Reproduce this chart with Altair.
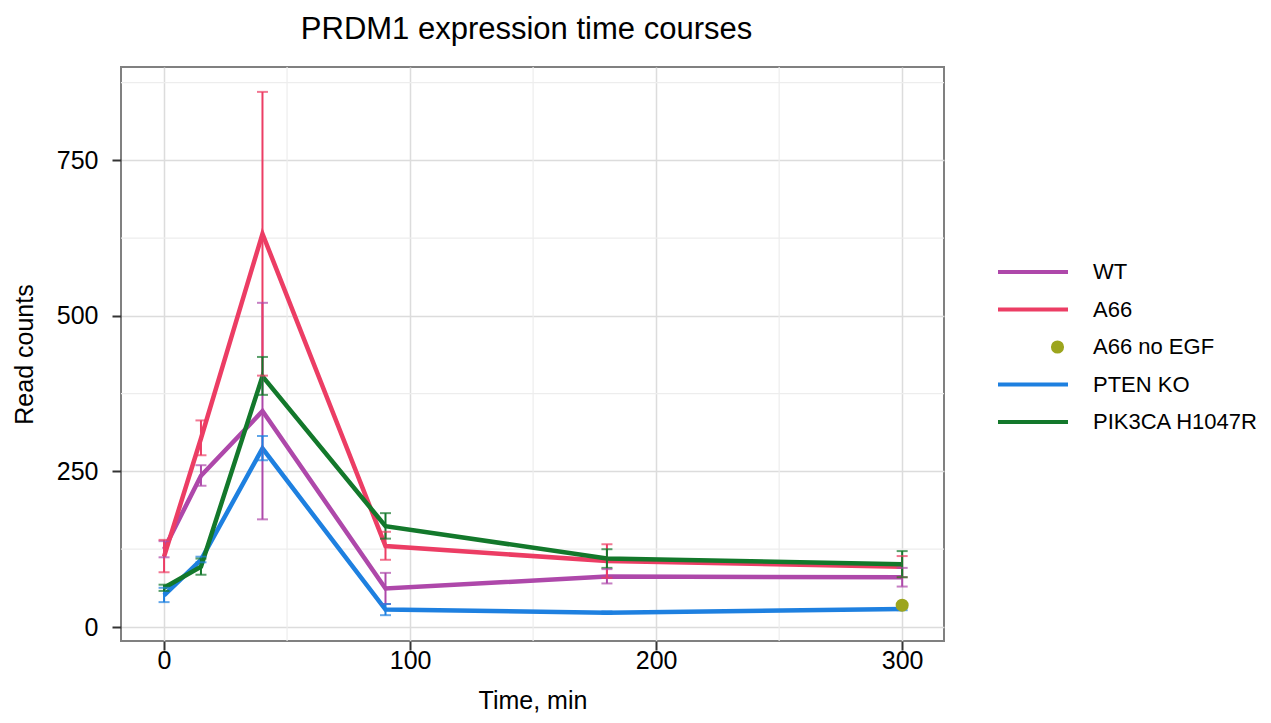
import altair as alt
import pandas as pd

# ---- data ----
time = [0, 15, 40, 90, 180, 300]
series_names = ["WT", "A66", "A66 no EGF", "PTEN KO", "PIK3CA H1047R"]
series_colors = ["#AE48AA", "#EC3D64", "#9CA51E", "#1E80E0", "#13782B"]

wt_mean = [125, 243, 347, 62, 81, 80]
wt_lo = [112, 227, 173, 37, 70, 65]
wt_hi = [138, 260, 521, 87, 93, 95]

a66_mean = [113, 303, 632, 130, 106, 97]
a66_lo = [88, 276, 404, 108, 79, 80]
a66_hi = [140, 332, 860, 153, 133, 114]

pten_mean = [51, 108, 287, 28, 23, 29]
pten_lo = [40, 104, 268, 19, 21, 27]
pten_hi = [63, 113, 307, 37, 25, 31]

pik_mean = [63, 97, 403, 162, 110, 101]
pik_lo = [58, 84, 373, 142, 95, 80]
pik_hi = [68, 110, 434, 183, 125, 122]

noegf_time = [300]
noegf_value = [35]

x_ticks = [0, 100, 200, 300]
y_ticks = [0, 250, 500, 750]
x_minor = [50, 150, 250]
y_minor = [125, 375, 625, 875]

# legend key styles: a line key for line series, a dot key for the point series
LINE_KEY = "M-1,0L1,0"
DOT_KEY = "M0.83,0A0.13,0.13 0 1,1 0.57,0A0.13,0.13 0 1,1 0.83,0Z"
key_shapes = [LINE_KEY, LINE_KEY, DOT_KEY, LINE_KEY, LINE_KEY]
key_fills = ["transparent", "transparent", "#9CA51E", "transparent", "transparent"]

# ---- build tables ----
rows = []
for name, m, lo, hi in [("WT", wt_mean, wt_lo, wt_hi),
                        ("A66", a66_mean, a66_lo, a66_hi),
                        ("PTEN KO", pten_mean, pten_lo, pten_hi),
                        ("PIK3CA H1047R", pik_mean, pik_lo, pik_hi)]:
    for t, a, b, c in zip(time, m, lo, hi):
        rows.append({"time": t, "value": a, "lo": b, "hi": c, "series": name})
df = pd.DataFrame(rows)
noegf = pd.DataFrame({"time": noegf_time, "value": noegf_value,
                      "series": ["A66 no EGF"] * len(noegf_time)})
xminor_df = pd.DataFrame({"x": x_minor})
yminor_df = pd.DataFrame({"y": y_minor})
legend_df = pd.DataFrame({"series": series_names})

FONT = "Liberation Sans"
xs = alt.Scale(domain=[-17.5, 317], nice=False, zero=False)
ys = alt.Scale(domain=[-22.5, 900], nice=False, zero=False)
# colour scale for the marks (domain listed in another order than the legend's,
# so its hidden legend stays separate from the visible one)
mark_order = [1, 3, 4, 0, 2]
cs = alt.Scale(domain=[series_names[i] for i in mark_order],
               range=[series_colors[i] for i in mark_order])


def make_legend():
    return alt.Legend(
        title=None,
        orient="none",
        legendX=875,
        legendY=195,
        symbolSize=4900,
        symbolStrokeWidth=4,
        symbolOpacity=1,
        clipHeight=20,
        rowPadding=15.5,
        labelFontSize=22,
        labelFont=FONT,
        labelColor="#000000",
        labelOffset=23,
        labelLimit=400,
        padding=0,
    )


minor_x = alt.Chart(xminor_df).mark_rule(color="#EDEDED", strokeWidth=1.2).encode(
    x=alt.X("x:Q", scale=xs)
)
minor_y = alt.Chart(yminor_df).mark_rule(color="#EDEDED", strokeWidth=1.2).encode(
    y=alt.Y("y:Q", scale=ys)
)

lines = alt.Chart(df).mark_line(strokeWidth=4.5).encode(
    x=alt.X("time:Q", scale=xs, title="Time, min",
            axis=alt.Axis(values=x_ticks, grid=True)),
    y=alt.Y("value:Q", scale=ys, title="Read counts",
            axis=alt.Axis(values=y_ticks, grid=True)),
    color=alt.Color("series:N", scale=cs, legend=None),
)

err = alt.Chart(df).mark_rule(strokeWidth=2).encode(
    x=alt.X("time:Q", scale=xs),
    y=alt.Y("lo:Q", scale=ys),
    y2="hi:Q",
    color=alt.Color("series:N", scale=cs, legend=None),
)
cap_lo = alt.Chart(df).mark_tick(orient="horizontal", size=11, thickness=2).encode(
    x=alt.X("time:Q", scale=xs),
    y=alt.Y("lo:Q", scale=ys),
    color=alt.Color("series:N", scale=cs, legend=None),
)
cap_hi = alt.Chart(df).mark_tick(orient="horizontal", size=11, thickness=2).encode(
    x=alt.X("time:Q", scale=xs),
    y=alt.Y("hi:Q", scale=ys),
    color=alt.Color("series:N", scale=cs, legend=None),
)
dot = alt.Chart(noegf).mark_circle(size=170, opacity=1).encode(
    x=alt.X("time:Q", scale=xs),
    y=alt.Y("value:Q", scale=ys),
    color=alt.Color("series:N", scale=cs, legend=None),
)

# layer that only carries the legend (filtered to no rows, so it draws nothing)
legend_layer = alt.Chart(legend_df).transform_filter(
    "datum.series == 'none'"
).mark_point(filled=False).encode(
    stroke=alt.Stroke("series:N", scale=alt.Scale(domain=series_names, range=series_colors),
                      legend=make_legend()),
    fill=alt.Fill("series:N", scale=alt.Scale(domain=series_names, range=key_fills),
                  legend=make_legend()),
    shape=alt.Shape("series:N", scale=alt.Scale(domain=series_names, range=key_shapes),
                    legend=make_legend()),
)

chart = alt.layer(minor_x, minor_y, lines, err, cap_lo, cap_hi, dot, legend_layer).properties(
    width=823,
    height=574,
    autosize=alt.AutoSizeParams(type="none"),
    padding={"left": 113, "top": 59, "right": 319, "bottom": 74},
    title=alt.TitleParams(
        "PRDM1 expression time courses",
        font=FONT, fontSize=31, fontWeight="normal", color="#000000",
        anchor="middle", offset=20, dx=-6,
    ),
).configure_view(
    stroke="#808080", strokeWidth=2
).configure_axis(
    labelFont=FONT, titleFont=FONT,
    labelFontSize=25, titleFontSize=25,
    labelColor="#000000", titleColor="#000000",
    titleFontWeight="normal",
    domain=False,
    tickColor="#333333", tickSize=9, tickWidth=2,
    gridColor="#DCDCDC", gridWidth=1.5,
).configure_axisX(
    labelPadding=-2, titlePadding=15,
).configure_axisY(
    labelPadding=14, titlePadding=19,
)

chart.save("out.html", embed_options={"renderer": "svg", "actions": False})
